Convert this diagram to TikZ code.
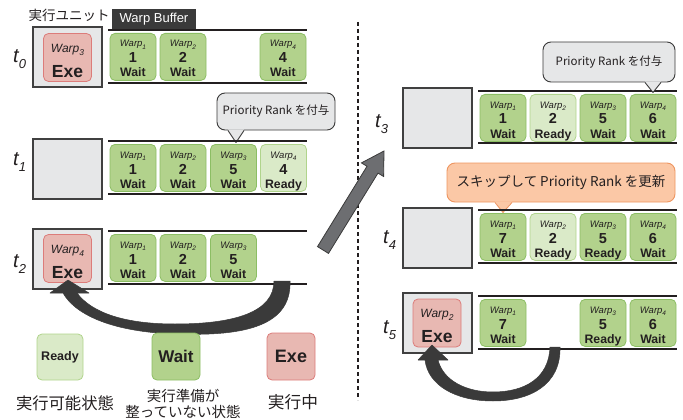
\documentclass[tikz,border=0pt]{standalone}
\usepackage{fontspec}
\setmainfont{Liberation Sans}
\newfontfamily\jp{Noto Sans CJK JP}
\usetikzlibrary{calc}
\definecolor{waitF}{HTML}{B2D28C}
\definecolor{waitB}{HTML}{8CBE64}
\definecolor{readyF}{HTML}{DAEAC8}
\definecolor{readyB}{HTML}{B0D48C}
\definecolor{exeF}{HTML}{E8B8B2}
\definecolor{exeB}{HTML}{DC7C7A}
\definecolor{unitF}{HTML}{E6E7E8}
\definecolor{unitB}{HTML}{404040}
\definecolor{lineC}{HTML}{231F20}
\definecolor{arrowC}{HTML}{3A3A3A}
\definecolor{bigArrowF}{HTML}{6D6E71}
\definecolor{calloutF}{HTML}{E6E7E8}
\definecolor{calloutB}{HTML}{3A3A3A}
\definecolor{orangeF}{HTML}{FBC8A6}
\definecolor{orangeB}{HTML}{EE9560}
\definecolor{tabF}{HTML}{3A3A3A}
\newcommand\wsub[1]{\raisebox{-2.5pt}{\fontsize{6.5}{6.5}\selectfont #1}}
\newcommand\esub[1]{\raisebox{-3pt}{\fontsize{8.5}{8.5}\selectfont #1}}
\newcommand\tlab[1]{t\raisebox{-6pt}{\fontsize{13}{13}\selectfont #1}}
\newcommand\wbox[7]{%
  \node[#4, anchor=north] (#1) at (#2,#3) {};
  \node[wlab, anchor=base] (#1-a) at ($(#1.north)+(0,14)$) {Warp\wsub{#5}};
  \node[wnum, anchor=base] (#1-b) at ($(#1.north)+(0,30)$) {#6};
  \node[wst, anchor=base] (#1-c) at ($(#1.north)+(0,44)$) {#7};
}
\newcommand\exwarp[3]{%
  \node[exebox] (#1) at (#2) {};
  \node[elab, anchor=base] (#1-a) at ($(#1.north)+(0,19)$) {Warp\esub{#3}};
  \node[eexe, anchor=base] (#1-b) at ($(#1.north)+(0,44)$) {Exe};
}
\tikzset{
  waitbox/.style={draw=waitB, fill=waitF, rounded corners=5pt, line width=0.8pt, minimum width=46pt, minimum height=47pt, inner sep=0pt},
  readybox/.style={waitbox, draw=readyB, fill=readyF},
  exebox/.style={draw=exeB, fill=exeF, rounded corners=5pt, line width=0.8pt, minimum width=48pt, minimum height=48pt, inner sep=0pt},
  unitbox/.style={draw=unitB, fill=unitF, line width=2pt, minimum width=69pt, minimum height=60pt, inner sep=0pt},
  wlab/.style={inner sep=0pt, text=lineC, font=\fontsize{9.5}{10}\selectfont\itshape},
  wnum/.style={inner sep=0pt, text=lineC, font=\fontsize{14.5}{15}\selectfont\bfseries},
  wst/.style={inner sep=0pt, text=lineC, font=\fontsize{12.3}{13}\selectfont\bfseries},
  elab/.style={inner sep=0pt, text=lineC, font=\fontsize{12}{12}\selectfont\itshape},
  eexe/.style={inner sep=0pt, text=lineC, font=\fontsize{17.5}{18}\selectfont\bfseries},
  tlabel/.style={inner sep=0pt, anchor=base west, text=lineC, font=\fontsize{20}{20}\selectfont\itshape},
  bufline/.style={draw=lineC, line width=2pt},
  callout/.style={draw=calloutB, fill=calloutF, line width=0.9pt, rounded corners=8pt, inner sep=0pt, text=lineC, font=\jp\fontsize{11.5}{12}\selectfont},
  ocallout/.style={callout, draw=orangeB, fill=orangeF, font=\jp\fontsize{13.5}{14}\selectfont},
  jptext/.style={inner sep=0pt, text=lineC, font=\jp\fontsize{16.3}{17}\selectfont},
  curvearrow/.style={fill=arrowC, draw=arrowC, line width=0.5pt, line join=round},
}
\begin{document}
\begin{tikzpicture}[x=1pt,y=-1pt]
\useasboundingbox (0,0) rectangle (683,420);

% header
\node[inner sep=0pt, text=lineC, font=\jp\fontsize{13.5}{14}\selectfont] (unitlabel) at (69,15) {実行ユニット};
\node[fill=tabF, text=white, minimum width=84pt, minimum height=21pt, inner sep=0pt, font=\fontsize{13}{13}\selectfont] (tab) at (154,19.5) {Warp Buffer};

% ---------- t0 ----------
\node[tlabel] (t0) at (13,63) {\tlab{0}};
\node[unitbox] (u0) at (67.5,57.5) {};
\exwarp{e0}{u0}{3}
\draw[bufline] (108,30) -- (307,30);
\draw[bufline] (108,83) -- (307,83);
\wbox{a01}{133}{33}{waitbox}{1}{1}{Wait}
\wbox{a02}{183}{33}{waitbox}{2}{2}{Wait}
\wbox{a04}{283}{33}{waitbox}{4}{4}{Wait}

% callout 1
\node[callout, minimum width=118pt, minimum height=37pt] (c1) at (276,111.5) {Priority Rank を付与};
\fill[calloutF] ($(c1.south)+(-48,-1)$) -- ($(c1.south)+(-40,12)$) -- ($(c1.south)+(-32,-1)$) -- cycle;
\draw[draw=calloutB, line width=0.9pt, line join=round] ($(c1.south)+(-48,0)$) -- ($(c1.south)+(-40,12)$) -- ($(c1.south)+(-32,0)$);

% ---------- t1 ----------
\node[tlabel] (t1) at (13,165) {\tlab{1}};
\node[unitbox] (u1) at (67.5,168.5) {};
\draw[bufline] (108,141) -- (307,141);
\draw[bufline] (108,194) -- (307,194);
\wbox{a11}{133}{144}{waitbox}{1}{1}{Wait}
\wbox{a12}{183}{144}{waitbox}{2}{2}{Wait}
\wbox{a13}{233.5}{144}{waitbox}{3}{5}{Wait}
\wbox{a14}{283.5}{144}{readybox}{4}{4}{Ready}

% ---------- t2 ----------
\node[tlabel] (t2) at (13,267) {\tlab{2}};
\node[unitbox] (u2) at (67.5,258.5) {};
\exwarp{e2}{u2}{4}
\draw[bufline] (108,231) -- (307,231);
\draw[bufline] (108,284) -- (307,284);
\wbox{a21}{133}{234}{waitbox}{1}{1}{Wait}
\wbox{a22}{183}{234}{waitbox}{2}{2}{Wait}
\wbox{a23}{233.5}{234}{waitbox}{3}{5}{Wait}

% left curved arrow
\coordinate (la1) at (290,281);
\coordinate (la2) at (274,281);
\coordinate (ltip) at (68,280);
\draw[curvearrow] (la1) .. controls (292,330) and (235,336) .. (175,334)
  .. controls (115,332) and (76,316) .. (63,293) -- (50,293) -- (ltip) -- (89,293) -- (77,293)
  .. controls (92,313) and (125,324) .. (175,324)
  .. controls (235,324) and (274,312) .. (la2) -- cycle;

% legend
\node[readybox, minimum width=46pt, minimum height=46pt] (lr) at (60,357) {};
\node[inner sep=0pt, text=lineC, font=\fontsize{12.5}{13}\selectfont\bfseries] (lrt) at (lr.center) {Ready};
\node[waitbox, minimum width=48pt, minimum height=47pt] (lw) at (176,356.5) {};
\node[inner sep=0pt, text=lineC, font=\fontsize{17}{17}\selectfont\bfseries] (lwt) at (lw.center) {Wait};
\node[exebox, minimum width=48pt, minimum height=47pt] (le) at (291,356.5) {};
\node[inner sep=0pt, text=lineC, font=\fontsize{18}{18}\selectfont\bfseries] (let) at (le.center) {Exe};
\node[jptext] (lrl) at (65,403) {実行可能状態};
\node[jptext, align=center, font=\jp\fontsize{14.5}{16.5}\selectfont] (lwl) at (183,404) {実行準備が\\整っていない状態};
\node[jptext, font=\jp\fontsize{16.7}{17}\selectfont] (lel) at (293,402) {実行中};

% dashed separator
\draw[draw=lineC, line width=1.6pt, dash pattern=on 4pt off 3pt] (358,22) -- (358,400);

% big gray arrow
\coordinate (g1) at (328.5,253.4);
\coordinate (g2) at (317.5,246.6);
\coordinate (g3) at (367.0,166.3);
\coordinate (g4) at (361.4,162.9);
\coordinate (gtip) at (384,151);
\coordinate (g5) at (383.6,176.5);
\coordinate (g6) at (378.0,173.1);
\draw[fill=bigArrowF, draw=arrowC, line width=0.8pt, line join=miter] (g1) -- (g2) -- (g3) -- (g4) -- (gtip) -- (g5) -- (g6) -- cycle;

% ---------- t3 ----------
\node[tlabel] (t3) at (375,127) {\tlab{3}};
\node[unitbox] (u3) at (437,118) {};
\draw[bufline] (478,91) -- (677,91);
\draw[bufline] (478,143) -- (677,143);
\wbox{b31}{503}{94}{waitbox}{1}{1}{Wait}
\wbox{b32}{553}{94}{readybox}{2}{2}{Ready}
\wbox{b33}{603}{94}{waitbox}{3}{5}{Wait}
\wbox{b34}{653}{94}{waitbox}{4}{6}{Wait}

\node[callout, minimum width=132pt, minimum height=40pt] (c2) at (609,62) {Priority Rank を付与};
\fill[calloutF] ($(c2.south)+(36,-1)$) -- ($(c2.south)+(44,10)$) -- ($(c2.south)+(52,-1)$) -- cycle;
\draw[draw=calloutB, line width=0.9pt, line join=round] ($(c2.south)+(36,0)$) -- ($(c2.south)+(44,10)$) -- ($(c2.south)+(52,0)$);

% ---------- t4 ----------
\node[ocallout, minimum width=228pt, minimum height=39pt] (c3) at (561,182.5) {スキップして Priority Rank を更新};
\fill[orangeF] ($(c3.south)+(-66,-1)$) -- ($(c3.south)+(-58,10)$) -- ($(c3.south)+(-49,-1)$) -- cycle;
\draw[draw=orangeB, line width=0.9pt, line join=round] ($(c3.south)+(-66,0)$) -- ($(c3.south)+(-58,10)$) -- ($(c3.south)+(-49,0)$);

\node[tlabel] (t4) at (383,243) {\tlab{4}};
\node[unitbox] (u4) at (437,238) {};
\draw[bufline] (478,210) -- (677,210);
\draw[bufline] (478,263) -- (677,263);
\wbox{b41}{503}{213}{waitbox}{1}{7}{Wait}
\wbox{b42}{553}{213}{readybox}{2}{2}{Ready}
\wbox{b43}{603}{213}{waitbox}{3}{5}{Ready}
\wbox{b44}{653}{213}{waitbox}{4}{6}{Wait}

% ---------- t5 ----------
\node[tlabel] (t5) at (383,333) {\tlab{5}};
\node[unitbox] (u5) at (437,323) {};
\exwarp{e5}{u5}{2}
\draw[bufline] (478,296) -- (677,296);
\draw[bufline] (478,349) -- (677,349);
\wbox{b51}{503}{299}{waitbox}{1}{7}{Wait}
\wbox{b53}{603}{299}{waitbox}{3}{5}{Ready}
\wbox{b54}{653}{299}{waitbox}{4}{6}{Wait}

% right curved arrow
\coordinate (ra1) at (560,347);
\coordinate (ra2) at (550,347);
\coordinate (rtip) at (432,345);
\draw[curvearrow] (ra1) .. controls (561,385) and (530,401) .. (493,401)
  .. controls (455,401) and (428,385) .. (425,360) -- (418,360) -- (rtip) -- (448,360) -- (438,360)
  .. controls (443,380) and (465,392) .. (493,392)
  .. controls (525,392) and (549,378) .. (ra2) -- cycle;

\end{tikzpicture}
\end{document}
